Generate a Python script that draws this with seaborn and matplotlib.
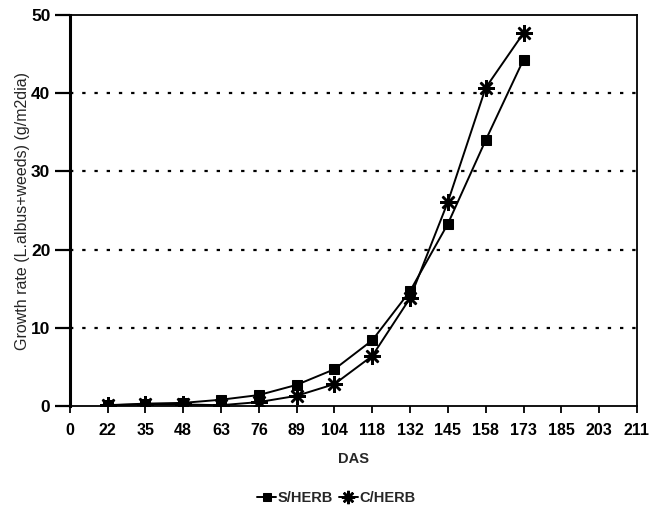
import pandas as pd
import matplotlib
matplotlib.use("Agg")
import matplotlib.pyplot as plt
import seaborn as sns

# DAS categories (evenly spaced on the axis) and growth rates
das_labels = ["0", "22", "35", "48", "63", "76", "89", "104", "118",
              "132", "145", "158", "173", "185", "203", "211"]
das_points = ["22", "35", "48", "63", "76", "89", "104", "118",
              "132", "145", "158", "173"]
s_herb = [0.1, 0.3, 0.4, 0.8, 1.4, 2.7, 4.7, 8.4, 14.7, 23.3, 34.0, 44.3]
c_herb = [0.1, 0.2, 0.2, 0.1, 0.5, 1.3, 2.8, 6.4, 13.8, 26.1, 40.7, 47.7]

pos = [das_labels.index(d) for d in das_points]
df = pd.DataFrame({"pos": pos, "S/HERB": s_herb, "C/HERB": c_herb})

sns.set_style("white")
plt.rcParams["font.family"] = ["Liberation Sans", "DejaVu Sans"]
plt.rcParams["font.weight"] = "bold"

fig = plt.figure(figsize=(6.58, 5.11), dpi=100)
ax = fig.add_axes([0.106, 0.2055, 0.862, 0.765])

sns.lineplot(data=df, x="pos", y="S/HERB", ax=ax, color="black", lw=1.4,
             marker="s", markersize=6.5, markeredgecolor="black",
             markerfacecolor="black", label="S/HERB")
sns.lineplot(data=df, x="pos", y="C/HERB", ax=ax, color="black", lw=1.4,
             marker=(8, 2, 0), markersize=12, markeredgewidth=1.8,
             markeredgecolor="black", label="C/HERB")

ax.set_xlim(0, len(das_labels) - 1)
ax.set_ylim(0, 50)
ax.set_xticks(range(len(das_labels)))
ax.set_xticklabels(das_labels)
ax.set_yticks([0, 10, 20, 30, 40, 50])

for y in [10, 20, 30, 40]:
    ax.axhline(y, color="black", ls=(0, (1.5, 4)), lw=1.6, zorder=0)

for side in ["top", "right", "bottom"]:
    ax.spines[side].set_linewidth(1.3)
    ax.spines[side].set_color("black")
ax.spines["left"].set_linewidth(2.2)
ax.spines["left"].set_color("black")

ax.tick_params(axis="x", direction="out", length=5, width=1.3, labelsize=11.5,
               bottom=True, pad=7, colors="black")
ax.tick_params(axis="y", direction="out", length=11, width=1.6, labelsize=12.5,
               left=True, pad=3, colors="black")

ax.set_xlabel("DAS", fontsize=10.5, fontweight="bold", labelpad=10)
ax.set_ylabel("Growth rate (L.albus+weeds) (g/m2dia)", fontsize=11.5,
              fontweight="normal", labelpad=1)

ax.legend(loc="upper center", bbox_to_anchor=(0.47, -0.185), ncol=2,
          frameon=False, fontsize=10.5, handlelength=1.3, handletextpad=0.1,
          columnspacing=0.4, markerscale=0.8)

fig.savefig("out.png", dpi=100)
